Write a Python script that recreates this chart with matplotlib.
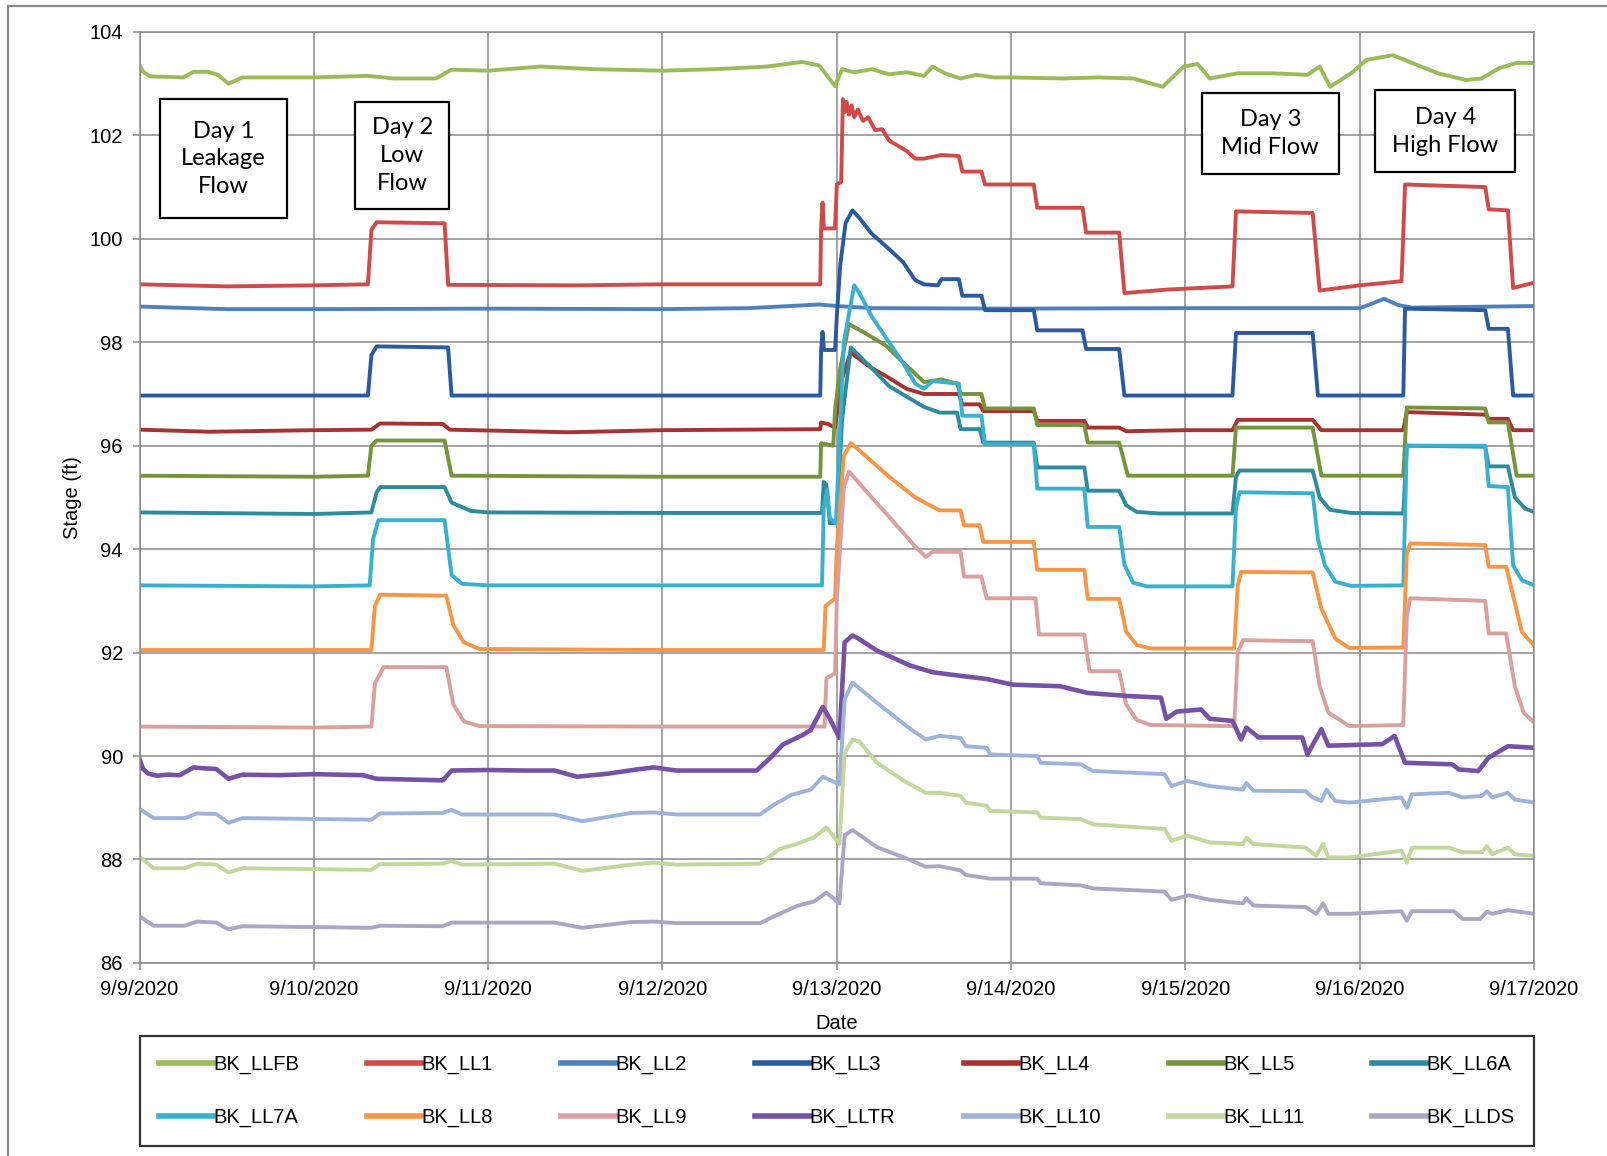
import matplotlib
matplotlib.use("Agg")
import matplotlib.pyplot as plt
import matplotlib.dates as mdates
from matplotlib.patches import Rectangle
from matplotlib.lines import Line2D
import pandas as pd

start = pd.Timestamp("2020-09-09")
end = pd.Timestamp("2020-09-17")

# (days since 9/9/2020, stage in ft) read per gauge
LLFB = [(0, 103.36), (0.02, 103.23), (0.06, 103.14), (0.25, 103.12), (0.31, 103.23), (0.39, 103.23),
        (0.45, 103.17), (0.51, 103.0), (0.59, 103.12), (1.0, 103.12), (1.31, 103.15), (1.46, 103.1),
        (1.7, 103.1), (1.79, 103.27), (2.0, 103.25), (2.3, 103.33), (2.6, 103.28), (3.0, 103.25),
        (3.3, 103.28), (3.6, 103.33), (3.8, 103.42), (3.9, 103.35), (3.99, 102.95), (4.03, 103.28),
        (4.1, 103.22), (4.2, 103.28), (4.3, 103.18), (4.4, 103.22), (4.5, 103.15), (4.55, 103.33),
        (4.62, 103.2), (4.71, 103.1), (4.8, 103.17), (4.9, 103.12), (5.0, 103.12), (5.3, 103.1),
        (5.5, 103.12), (5.7, 103.1), (5.87, 102.94), (5.99, 103.33), (6.07, 103.38), (6.14, 103.1),
        (6.3, 103.2), (6.5, 103.2), (6.7, 103.17), (6.77, 103.33), (6.83, 102.94), (6.95, 103.2),
        (7.04, 103.46), (7.19, 103.55), (7.3, 103.4), (7.45, 103.2), (7.61, 103.07), (7.7, 103.1),
        (7.8, 103.3), (7.9, 103.4), (8.0, 103.4)]

LL1 = [(0, 99.12), (0.5, 99.08), (1.0, 99.1), (1.31, 99.12), (1.33, 100.17), (1.36, 100.32),
       (1.75, 100.3), (1.77, 99.11), (2.5, 99.1), (3.0, 99.12), (3.905, 99.12), (3.91, 100.2),
       (3.918, 100.7), (3.926, 100.2), (3.99, 100.2), (4.0, 101.05), (4.025, 101.1), (4.035, 102.7),
       (4.045, 102.45), (4.055, 102.65), (4.07, 102.4), (4.085, 102.58), (4.1, 102.35), (4.12, 102.5),
       (4.15, 102.28), (4.18, 102.35), (4.22, 102.1), (4.26, 102.12), (4.3, 101.9), (4.35, 101.8),
       (4.4, 101.7), (4.45, 101.55), (4.5, 101.55), (4.6, 101.62), (4.7, 101.6), (4.72, 101.3),
       (4.83, 101.3), (4.85, 101.05), (5.13, 101.05), (5.15, 100.6), (5.41, 100.6), (5.43, 100.12),
       (5.62, 100.12), (5.65, 98.95), (5.9, 99.02), (6.27, 99.08), (6.29, 100.53), (6.73, 100.5),
       (6.77, 99.0), (7.0, 99.1), (7.24, 99.18), (7.26, 101.05), (7.72, 101.0), (7.74, 100.57),
       (7.85, 100.55), (7.88, 99.05), (8.0, 99.15)]

LL2 = [(0, 98.69), (0.5, 98.64), (1.0, 98.64), (2.0, 98.65), (3.0, 98.64), (3.5, 98.66),
       (3.9, 98.73), (4.0, 98.7), (4.2, 98.66), (5.0, 98.65), (6.0, 98.66), (7.0, 98.66),
       (7.05, 98.72), (7.14, 98.84), (7.22, 98.72), (7.3, 98.67), (8.0, 98.7)]

LL3 = [(0, 96.97), (1.31, 96.97), (1.33, 97.75), (1.36, 97.92), (1.77, 97.9), (1.79, 96.97),
       (3.905, 96.97), (3.91, 97.85), (3.918, 98.2), (3.926, 97.85), (3.99, 97.85), (4.0, 98.5),
       (4.02, 99.5), (4.05, 100.3), (4.09, 100.55), (4.13, 100.4), (4.2, 100.1), (4.3, 99.8),
       (4.38, 99.55), (4.45, 99.2), (4.5, 99.12), (4.58, 99.1), (4.6, 99.22), (4.7, 99.22),
       (4.72, 98.9), (4.83, 98.9), (4.85, 98.62), (5.13, 98.62), (5.15, 98.23), (5.41, 98.23),
       (5.43, 97.87), (5.62, 97.87), (5.65, 96.97), (6.27, 96.97), (6.29, 98.18), (6.73, 98.18),
       (6.76, 96.97), (7.25, 96.97), (7.26, 98.65), (7.72, 98.62), (7.74, 98.26), (7.85, 98.26),
       (7.88, 96.97), (8.0, 96.97)]

LL4 = [(0, 96.31), (0.4, 96.27), (1.0, 96.3), (1.33, 96.31), (1.38, 96.43), (1.74, 96.42),
       (1.78, 96.31), (2.46, 96.26), (3.0, 96.3), (3.905, 96.32), (3.91, 96.45), (3.95, 96.42),
       (3.99, 96.35), (4.03, 97.3), (4.08, 97.8), (4.2, 97.5), (4.28, 97.35), (4.4, 97.1),
       (4.5, 97.0), (4.7, 97.0), (4.72, 96.8), (4.82, 96.8), (4.84, 96.67), (5.13, 96.67),
       (5.15, 96.48), (5.42, 96.48), (5.44, 96.35), (5.62, 96.35), (5.66, 96.28), (6.0, 96.3),
       (6.27, 96.3), (6.3, 96.5), (6.73, 96.5), (6.78, 96.3), (7.25, 96.3), (7.27, 96.65),
       (7.72, 96.6), (7.74, 96.52), (7.85, 96.52), (7.88, 96.3), (8.0, 96.3)]

LL5 = [(0, 95.42), (1.0, 95.4), (1.31, 95.42), (1.33, 96.0), (1.36, 96.1), (1.75, 96.1),
       (1.79, 95.42), (3.0, 95.4), (3.905, 95.4), (3.91, 96.05), (3.98, 96.0), (3.99, 96.7),
       (4.02, 97.5), (4.07, 98.35), (4.15, 98.2), (4.28, 97.94), (4.4, 97.55), (4.5, 97.23),
       (4.6, 97.28), (4.69, 97.2), (4.71, 97.0), (4.83, 97.0), (4.85, 96.72), (5.13, 96.72),
       (5.15, 96.4), (5.42, 96.4), (5.44, 96.06), (5.62, 96.06), (5.67, 95.42), (6.27, 95.42),
       (6.29, 96.35), (6.73, 96.35), (6.78, 95.42), (7.25, 95.42), (7.27, 96.74), (7.72, 96.72),
       (7.74, 96.45), (7.85, 96.45), (7.9, 95.42), (8.0, 95.42)]

LL6A = [(0, 94.71), (1.0, 94.68), (1.33, 94.71), (1.36, 95.1), (1.38, 95.2), (1.75, 95.2),
        (1.79, 94.9), (1.9, 94.74), (2.0, 94.71), (3.0, 94.7), (3.915, 94.7), (3.925, 95.3),
        (3.94, 95.25), (3.96, 94.5), (4.0, 94.5), (4.03, 96.5), (4.08, 97.9), (4.2, 97.5),
        (4.3, 97.15), (4.4, 96.95), (4.5, 96.75), (4.59, 96.64), (4.69, 96.64), (4.71, 96.32),
        (4.82, 96.32), (4.84, 96.06), (5.13, 96.06), (5.15, 95.58), (5.42, 95.58), (5.44, 95.13),
        (5.62, 95.13), (5.66, 94.85), (5.72, 94.72), (5.85, 94.69), (6.27, 94.69), (6.29, 95.4),
        (6.31, 95.52), (6.73, 95.52), (6.77, 95.0), (6.83, 94.76), (6.95, 94.7), (7.25, 94.69),
        (7.27, 96.0), (7.72, 95.98), (7.74, 95.6), (7.85, 95.6), (7.89, 95.0), (7.95, 94.78),
        (8.0, 94.72)]

LL7A = [(0, 93.3), (1.0, 93.28), (1.32, 93.3), (1.34, 94.2), (1.37, 94.56), (1.75, 94.56),
        (1.79, 93.5), (1.85, 93.33), (2.0, 93.3), (3.0, 93.3), (3.915, 93.3), (3.925, 94.8),
        (3.945, 95.15), (3.96, 94.6), (3.995, 94.5), (4.04, 98.0), (4.1, 99.1), (4.13, 98.95),
        (4.2, 98.5), (4.3, 98.0), (4.38, 97.6), (4.45, 97.2), (4.5, 97.1), (4.55, 97.25),
        (4.7, 97.2), (4.72, 96.58), (4.83, 96.58), (4.85, 96.03), (5.13, 96.03), (5.15, 95.17),
        (5.42, 95.17), (5.44, 94.43), (5.62, 94.43), (5.65, 93.7), (5.7, 93.35), (5.78, 93.28),
        (6.27, 93.28), (6.29, 94.8), (6.31, 95.1), (6.73, 95.08), (6.76, 94.2), (6.8, 93.69),
        (6.86, 93.37), (6.95, 93.29), (7.25, 93.3), (7.27, 96.0), (7.72, 96.0), (7.74, 95.22),
        (7.85, 95.2), (7.88, 93.69), (7.93, 93.4), (8.0, 93.3)]

LL8 = [(0, 92.05), (1.0, 92.05), (1.33, 92.05), (1.35, 92.9), (1.38, 93.12), (1.76, 93.1),
       (1.8, 92.53), (1.86, 92.2), (1.95, 92.07), (3.0, 92.05), (3.925, 92.05), (3.935, 92.9),
       (3.99, 93.05), (4.0, 94.0), (4.04, 95.8), (4.08, 96.05), (4.15, 95.85), (4.3, 95.4),
       (4.45, 95.0), (4.59, 94.75), (4.71, 94.75), (4.73, 94.46), (4.82, 94.46), (4.84, 94.14),
       (5.13, 94.14), (5.15, 93.6), (5.42, 93.6), (5.44, 93.04), (5.62, 93.04), (5.66, 92.4),
       (5.72, 92.15), (5.8, 92.08), (6.28, 92.08), (6.3, 93.3), (6.32, 93.56), (6.73, 93.55),
       (6.78, 92.85), (6.86, 92.27), (6.94, 92.09), (7.25, 92.1), (7.27, 93.9), (7.29, 94.11),
       (7.72, 94.08), (7.74, 93.66), (7.84, 93.66), (7.88, 93.1), (7.93, 92.4), (8.0, 92.14)]

LL9 = [(0, 90.57), (1.0, 90.55), (1.33, 90.57), (1.35, 91.4), (1.4, 91.72), (1.76, 91.72),
       (1.8, 91.0), (1.86, 90.67), (1.95, 90.58), (3.0, 90.57), (3.93, 90.57), (3.94, 91.5),
       (3.99, 91.6), (4.0, 93.0), (4.04, 95.2), (4.07, 95.5), (4.2, 95.0), (4.32, 94.55),
       (4.45, 94.05), (4.51, 93.85), (4.55, 93.95), (4.71, 93.95), (4.73, 93.47), (4.83, 93.47),
       (4.86, 93.05), (5.14, 93.05), (5.16, 92.35), (5.42, 92.35), (5.45, 91.64), (5.62, 91.64),
       (5.66, 91.0), (5.72, 90.7), (5.8, 90.6), (6.28, 90.58), (6.3, 92.0), (6.33, 92.24),
       (6.73, 92.22), (6.77, 91.35), (6.82, 90.84), (6.94, 90.58), (7.25, 90.6), (7.27, 92.7),
       (7.29, 93.05), (7.72, 93.0), (7.74, 92.37), (7.84, 92.37), (7.89, 91.35), (7.94, 90.84),
       (8.0, 90.65)]

LLTR = [(0, 89.94), (0.02, 89.75), (0.05, 89.66), (0.1, 89.62), (0.16, 89.64), (0.23, 89.63),
        (0.31, 89.78), (0.38, 89.76), (0.44, 89.75), (0.51, 89.56), (0.59, 89.64), (0.8, 89.63),
        (1.0, 89.65), (1.28, 89.63), (1.36, 89.56), (1.5, 89.55), (1.74, 89.53), (1.79, 89.72),
        (2.0, 89.73), (2.2, 89.72), (2.38, 89.72), (2.51, 89.6), (2.69, 89.66), (2.85, 89.74),
        (2.95, 89.78), (3.08, 89.72), (3.3, 89.72), (3.54, 89.72), (3.62, 89.97), (3.69, 90.22),
        (3.8, 90.4), (3.85, 90.5), (3.92, 90.95), (3.96, 90.72), (4.015, 90.35), (4.045, 92.2),
        (4.09, 92.33), (4.11, 92.3), (4.23, 92.04), (4.42, 91.75), (4.55, 91.62), (4.71, 91.55),
        (4.86, 91.49), (5.01, 91.38), (5.28, 91.35), (5.44, 91.22), (5.67, 91.16), (5.86, 91.13),
        (5.89, 90.72), (5.95, 90.86), (6.09, 90.9), (6.14, 90.72), (6.27, 90.68), (6.32, 90.32),
        (6.35, 90.55), (6.42, 90.36), (6.67, 90.36), (6.7, 90.03), (6.78, 90.52), (6.82, 90.2),
        (7.13, 90.23), (7.2, 90.39), (7.26, 89.87), (7.53, 89.84), (7.57, 89.74), (7.68, 89.71),
        (7.74, 89.97), (7.85, 90.19), (8.0, 90.16)]

LL10 = [(0, 88.98), (0.08, 88.8), (0.26, 88.8), (0.33, 88.89), (0.44, 88.88), (0.51, 88.71),
        (0.59, 88.8), (1.33, 88.77), (1.38, 88.89), (1.74, 88.9), (1.79, 88.96), (1.85, 88.87),
        (2.38, 88.87), (2.54, 88.74), (2.82, 88.9), (2.95, 88.91), (3.08, 88.87), (3.56, 88.87),
        (3.64, 89.06), (3.74, 89.25), (3.85, 89.35), (3.92, 89.6), (4.015, 89.45), (4.045, 91.1),
        (4.09, 91.42), (4.23, 91.03), (4.4, 90.58), (4.51, 90.32), (4.59, 90.39), (4.71, 90.35),
        (4.74, 90.19), (4.86, 90.16), (4.88, 90.03), (5.15, 90.0), (5.17, 89.87), (5.4, 89.84),
        (5.47, 89.71), (5.88, 89.65), (5.92, 89.42), (6.01, 89.52), (6.14, 89.42), (6.33, 89.35),
        (6.35, 89.48), (6.39, 89.33), (6.69, 89.32), (6.73, 89.2), (6.78, 89.13), (6.81, 89.35),
        (6.86, 89.13), (6.94, 89.1), (7.24, 89.2), (7.27, 89.0), (7.3, 89.26), (7.51, 89.29),
        (7.59, 89.2), (7.7, 89.23), (7.73, 89.32), (7.76, 89.2), (7.85, 89.29), (7.89, 89.16),
        (8.0, 89.1)]

LL11 = [(0, 88.06), (0.08, 87.83), (0.26, 87.83), (0.33, 87.92), (0.44, 87.9), (0.51, 87.75),
        (0.59, 87.83), (1.33, 87.8), (1.38, 87.91), (1.74, 87.92), (1.79, 87.97), (1.85, 87.9),
        (2.38, 87.92), (2.54, 87.78), (2.82, 87.9), (2.95, 87.94), (3.08, 87.9), (3.56, 87.92),
        (3.67, 88.2), (3.77, 88.3), (3.87, 88.43), (3.94, 88.62), (4.015, 88.3), (4.045, 90.06),
        (4.09, 90.32), (4.13, 90.28), (4.23, 89.87), (4.4, 89.49), (4.51, 89.29), (4.59, 89.29),
        (4.71, 89.23), (4.74, 89.1), (4.86, 89.04), (4.88, 88.94), (5.15, 88.91), (5.17, 88.81),
        (5.4, 88.78), (5.47, 88.68), (5.88, 88.59), (5.92, 88.36), (6.01, 88.46), (6.14, 88.33),
        (6.33, 88.3), (6.35, 88.42), (6.39, 88.3), (6.69, 88.23), (6.75, 88.07), (6.79, 88.3),
        (6.82, 88.04), (6.94, 88.04), (7.24, 88.17), (7.27, 87.94), (7.3, 88.23), (7.51, 88.23),
        (7.59, 88.14), (7.7, 88.14), (7.73, 88.26), (7.76, 88.1), (7.85, 88.23), (7.89, 88.1),
        (8.0, 88.07)]

LLDS = [(0, 86.9), (0.08, 86.72), (0.26, 86.72), (0.33, 86.8), (0.44, 86.78), (0.51, 86.65),
        (0.59, 86.71), (1.33, 86.68), (1.38, 86.72), (1.74, 86.71), (1.79, 86.78), (2.38, 86.78),
        (2.54, 86.68), (2.82, 86.79), (2.95, 86.8), (3.08, 86.77), (3.56, 86.77), (3.64, 86.9),
        (3.77, 87.1), (3.87, 87.19), (3.94, 87.36), (4.015, 87.15), (4.045, 88.47), (4.09, 88.57),
        (4.23, 88.24), (4.4, 88.02), (4.51, 87.86), (4.59, 87.87), (4.71, 87.79), (4.74, 87.7),
        (4.88, 87.63), (5.15, 87.63), (5.17, 87.54), (5.4, 87.5), (5.47, 87.44), (5.88, 87.38),
        (5.92, 87.22), (6.02, 87.31), (6.14, 87.22), (6.33, 87.15), (6.35, 87.25), (6.39, 87.11),
        (6.69, 87.08), (6.75, 86.95), (6.79, 87.15), (6.82, 86.95), (6.94, 86.95), (7.24, 87.0),
        (7.27, 86.82), (7.3, 87.0), (7.54, 87.0), (7.59, 86.85), (7.69, 86.85), (7.73, 86.99),
        (7.76, 86.95), (7.85, 87.02), (8.0, 86.95)]

names = ["BK_LLFB", "BK_LL1", "BK_LL2", "BK_LL3", "BK_LL4", "BK_LL5", "BK_LL6A",
         "BK_LL7A", "BK_LL8", "BK_LL9", "BK_LLTR", "BK_LL10", "BK_LL11", "BK_LLDS"]
series = [LLFB, LL1, LL2, LL3, LL4, LL5, LL6A, LL7A, LL8, LL9, LLTR, LL10, LL11, LLDS]
colors = ["#9BBB59", "#D04A4A", "#4F81BD", "#2B5A9E", "#A83232", "#77933C", "#2E8B9E",
          "#3AB0CF", "#F79646", "#D9A0A0", "#7652A6", "#9DB3DA", "#C3D69B", "#ABA5C6"]

ticks = pd.date_range(start, end, freq="D")
yticks = list(range(86, 105, 2))

fig = plt.figure(figsize=(16.08, 11.56), dpi=100)
ax = fig.add_axes([0.0868, 0.167, 0.8672, 0.8054])

lines = []
for name, pts, c in zip(names, series, colors):
    t = [start + pd.Timedelta(days=d) for d, v in pts]
    v = [v for d, v in pts]
    lw = 3.3 if name == "BK_LLTR" else 2.8
    ln, = ax.plot(t, v, color=c, lw=lw, label=name, solid_joinstyle="round")
    lines.append(ln)

ax.set_xlim(start, end)
ax.set_ylim(86, 104)
ax.set_xticks(ticks)
ax.xaxis.set_major_formatter(plt.FuncFormatter(
    lambda x, p: "{0.month}/{0.day}/{0.year}".format(mdates.num2date(x))))
ax.set_yticks(yticks)
ax.grid(True, color="#8a8a8a", lw=1.1)
ax.set_axisbelow(True)
for s in ax.spines.values():
    s.set_color("#8a8a8a")
    s.set_linewidth(1.1)
ax.tick_params(colors="#8a8a8a", length=5, width=1.1, labelcolor="black",
               labelsize=14.5, pad=7)
for lab in ax.get_xticklabels() + ax.get_yticklabels():
    lab.set_family("Liberation Sans")
ax.set_xlabel("Date", fontsize=14.5, family="Liberation Sans", labelpad=11)
ax.set_ylabel("Stage (ft)", fontsize=14.5, family="Liberation Sans", labelpad=5)

# flow condition boxes
boxes = [(0.0147, 0.7997, 0.1058, 0.9275, "Day 1\nLeakage\nFlow"),
         (0.1545, 0.8097, 0.2221, 0.9242, "Day 2\nLow\nFlow"),
         (0.7619, 0.8470, 0.8598, 0.9342, "Day 3\nMid Flow"),
         (0.8863, 0.8493, 0.9863, 0.9374, "Day 4\nHigh Flow")]
for x0, y0, x1, y1, txt in boxes:
    ax.add_patch(Rectangle((x0, y0), x1 - x0, y1 - y0, transform=ax.transAxes,
                           facecolor="white", edgecolor="black", lw=1.6, zorder=5))
    ax.text((x0 + x1) / 2, (y0 + y1) / 2, txt, transform=ax.transAxes, ha="center",
            va="center", fontsize=17, family="Lato", linespacing=1.4, zorder=6)

# legend fills column by column, so interleave to read row by row
order = []
for i in range(7):
    order += [i, i + 7]
leg = fig.legend([lines[i] for i in order], [names[i] for i in order],
                 loc="lower left", bbox_to_anchor=(0.0868, 0.0087, 0.8672, 0.0969),
                 ncol=7, mode="expand", frameon=True, fancybox=False, edgecolor="black",
                 prop={"family": "Liberation Sans", "size": 14.5}, handlelength=2.7,
                 handletextpad=0.0, labelspacing=1.65, borderpad=0.95, borderaxespad=0)
leg.get_frame().set_linewidth(1.6)
for h in leg.get_lines():
    h.set_linewidth(4)

# outer chart frame (top and left edges)
fig.add_artist(Line2D([8 / 1608, 1], [1 - 6 / 1156, 1 - 6 / 1156], color="#8a8a8a", lw=1.6))
fig.add_artist(Line2D([8 / 1608, 8 / 1608], [0, 1 - 6 / 1156], color="#8a8a8a", lw=1.6))

fig.savefig("out.png", dpi=100)
